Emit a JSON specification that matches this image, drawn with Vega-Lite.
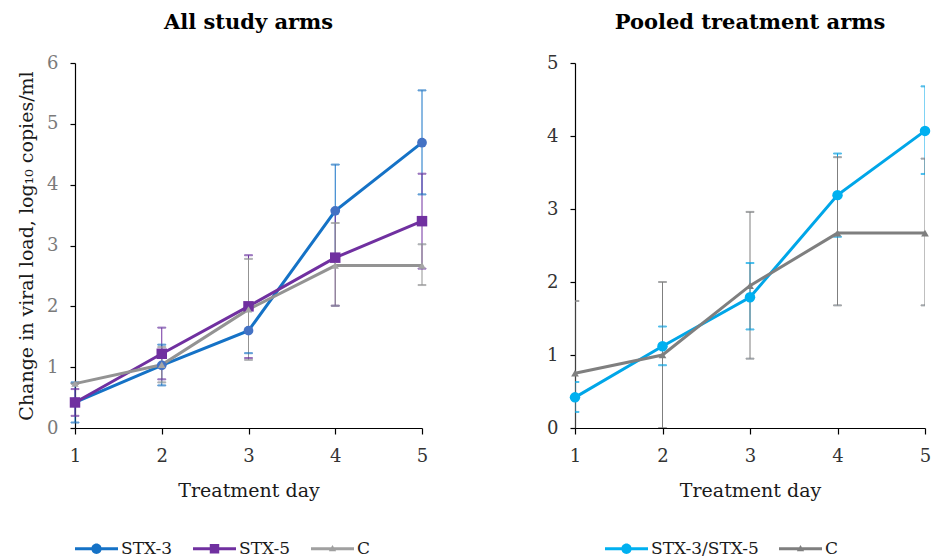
{
  "$schema": "https://vega.github.io/schema/vega-lite/v6.json",
  "padding": {"left": 17, "top": 12, "right": 5, "bottom": 5},
  "background": "white",
  "datasets": {
    "all": [
      {"day": 1, "series": "STX-3", "value": 0.42, "lo": 0.09, "hi": 0.75},
      {"day": 2, "series": "STX-3", "value": 1.03, "lo": 0.70, "hi": 1.37},
      {"day": 3, "series": "STX-3", "value": 1.60, "lo": 1.23, "hi": 1.97},
      {"day": 4, "series": "STX-3", "value": 3.57, "lo": 2.81, "hi": 4.33},
      {"day": 5, "series": "STX-3", "value": 4.69, "lo": 3.84, "hi": 5.55},
      {"day": 1, "series": "STX-5", "value": 0.42, "lo": 0.20, "hi": 0.64},
      {"day": 2, "series": "STX-5", "value": 1.22, "lo": 0.80, "hi": 1.65},
      {"day": 3, "series": "STX-5", "value": 2.00, "lo": 1.15, "hi": 2.84},
      {"day": 4, "series": "STX-5", "value": 2.80, "lo": 2.01, "hi": 3.59},
      {"day": 5, "series": "STX-5", "value": 3.40, "lo": 2.62, "hi": 4.18},
      {"day": 1, "series": "C", "value": 0.73, "lo": 0.73, "hi": 0.73},
      {"day": 2, "series": "C", "value": 1.04, "lo": 0.75, "hi": 1.33},
      {"day": 3, "series": "C", "value": 1.95, "lo": 1.12, "hi": 2.78},
      {"day": 4, "series": "C", "value": 2.67, "lo": 2.01, "hi": 3.37},
      {"day": 5, "series": "C", "value": 2.67, "lo": 2.35, "hi": 3.02}
    ],
    "pooled": [
      {"day": 1, "series": "STX-3/STX-5", "value": 0.42, "lo": 0.22, "hi": 0.63},
      {"day": 2, "series": "STX-3/STX-5", "value": 1.12, "lo": 0.86, "hi": 1.39},
      {"day": 3, "series": "STX-3/STX-5", "value": 1.79, "lo": 1.35, "hi": 2.26},
      {"day": 4, "series": "STX-3/STX-5", "value": 3.19, "lo": 2.62, "hi": 3.76},
      {"day": 5, "series": "STX-3/STX-5", "value": 4.07, "lo": 3.48, "hi": 4.68},
      {"day": 1, "series": "C", "value": 0.75, "lo": -0.24, "hi": 1.74},
      {"day": 2, "series": "C", "value": 1.00, "lo": 0.00, "hi": 2.00},
      {"day": 3, "series": "C", "value": 1.95, "lo": 0.95, "hi": 2.96},
      {"day": 4, "series": "C", "value": 2.67, "lo": 1.68, "hi": 3.71},
      {"day": 5, "series": "C", "value": 2.67, "lo": 1.68, "hi": 3.69}
    ]
  },
  "hconcat": [
    {
      "width": 347,
      "height": 365,
      "data": {"name": "all"},
      "title": {"text": "All study arms"},
      "encoding": {
        "x": {"field": "day", "type": "quantitative", "title": "Treatment day",
              "scale": {"domain": [1, 5], "nice": false, "zero": false},
              "axis": {"values": [1, 2, 3, 4, 5], "format": "d"}}
      },
      "layer": [
        {
          "mark": {"type": "rule", "strokeWidth": 1},
          "encoding": {
            "y": {"field": "lo", "type": "quantitative", "title": "Change in viral load, log₁₀ copies/ml",
                  "scale": {"domain": [0, 6], "nice": false},
                  "axis": {"values": [0, 1, 2, 3, 4, 5, 6], "format": "d", "labelColor": "#7a7a7a"}},
            "y2": {"field": "hi"},
            "stroke": {"field": "series", "type": "nominal", "legend": null,
                       "scale": {"range": ["#939393", "#1572C6", "#7030A0"]}}
          }
        },
        {
          "mark": {"type": "tick", "orient": "horizontal", "size": 8, "thickness": 1},
          "encoding": {
            "y": {"field": "lo", "type": "quantitative", "title": "Change in viral load, log₁₀ copies/ml", "scale": {"domain": [0, 6], "nice": false}},
            "stroke": {"field": "series", "type": "nominal", "legend": null}
          }
        },
        {
          "mark": {"type": "tick", "orient": "horizontal", "size": 8, "thickness": 1},
          "encoding": {
            "y": {"field": "hi", "type": "quantitative", "title": "Change in viral load, log₁₀ copies/ml", "scale": {"domain": [0, 6], "nice": false}},
            "stroke": {"field": "series", "type": "nominal", "legend": null}
          }
        },
        {
          "mark": {"type": "line", "strokeWidth": 3},
          "encoding": {
            "y": {"field": "value", "type": "quantitative", "title": "Change in viral load, log₁₀ copies/ml", "scale": {"domain": [0, 6], "nice": false}},
            "stroke": {"field": "series", "type": "nominal", "legend": null}
          }
        },
        {
          "transform": [{"filter": "datum.series === 'STX-3'"}],
          "mark": {"type": "point", "shape": "circle", "filled": true, "size": 95, "opacity": 1},
          "encoding": {
            "y": {"field": "value", "type": "quantitative", "title": "Change in viral load, log₁₀ copies/ml", "scale": {"domain": [0, 6], "nice": false}},
            "fill": {"field": "series", "type": "nominal", "legend": null,
                     "scale": {"range": ["#a5a5a5", "#4472C4", "#7030A0"]}}
          }
        },
        {
          "transform": [{"filter": "datum.series === 'STX-5'"}],
          "mark": {"type": "point", "shape": "square", "filled": true, "size": 110, "opacity": 1},
          "encoding": {
            "y": {"field": "value", "type": "quantitative", "title": "Change in viral load, log₁₀ copies/ml", "scale": {"domain": [0, 6], "nice": false}},
            "fill": {"field": "series", "type": "nominal", "legend": null}
          }
        },
        {
          "transform": [{"filter": "datum.series === 'C'"}],
          "mark": {"type": "point", "shape": "triangle-up", "filled": true, "size": 55, "opacity": 1},
          "encoding": {
            "y": {"field": "value", "type": "quantitative", "title": "Change in viral load, log₁₀ copies/ml", "scale": {"domain": [0, 6], "nice": false}},
            "fill": {"field": "series", "type": "nominal", "legend": null}
          }
        },
        {
          "mark": {"type": "point", "filled": true, "opacity": 0},
          "encoding": {
            "y": {"field": "value", "type": "quantitative", "title": "Change in viral load, log₁₀ copies/ml", "scale": {"domain": [0, 6], "nice": false}},
            "color": {"field": "series", "type": "nominal",
                      "scale": {"domain": ["STX-3", "STX-5", "C"], "range": ["#1572C6", "#7030A0", "#a0a0a0"]},
                      "legend": {"orient": "bottom", "direction": "horizontal", "title": null, "symbolSize": 1849, "symbolStrokeWidth": 0, "symbolOpacity": 1, "labelOffset": 3, "columnPadding": 20, "padding": 0, "offset": 27}},
            "shape": {"field": "series", "type": "nominal",
                      "scale": {"domain": ["STX-3", "STX-5", "C"],
                                "range": [
                                  "M-1,-0.07H1V0.07H-1Z M0.24,0A0.24,0.24 0 1,1 -0.24,0A0.24,0.24 0 1,1 0.24,0Z",
                                  "M-1,-0.07H1V0.07H-1Z M-0.22,-0.22H0.22V0.22H-0.22Z",
                                  "M-1,-0.07H1V0.07H-1Z M0,-0.17L0.17,0.12H-0.17Z"]},
                      "legend": {"orient": "bottom", "direction": "horizontal", "title": null, "symbolSize": 1849, "symbolStrokeWidth": 0, "symbolOpacity": 1, "labelOffset": 3, "columnPadding": 20, "padding": 0, "offset": 27}}
          }
        }
      ]
    },
    {
      "width": 350,
      "height": 365,
      "data": {"name": "pooled"},
      "title": {"text": "Pooled treatment arms"},
      "encoding": {
        "x": {"field": "day", "type": "quantitative", "title": "Treatment day",
              "scale": {"domain": [1, 5], "nice": false, "zero": false},
              "axis": {"values": [1, 2, 3, 4, 5], "format": "d"}}
      },
      "layer": [
        {
          "mark": {"type": "rule", "strokeWidth": 1, "clip": true},
          "encoding": {
            "y": {"field": "lo", "type": "quantitative", "title": null,
                  "scale": {"domain": [0, 5], "nice": false},
                  "axis": {"values": [0, 1, 2, 3, 4, 5], "format": "d", "labelColor": "#333333"}},
            "y2": {"field": "hi"},
            "stroke": {"field": "series", "type": "nominal", "legend": null,
                       "scale": {"range": ["#7f7f7f", "#00A6E8"]}}
          }
        },
        {
          "mark": {"type": "tick", "orient": "horizontal", "size": 8, "thickness": 1, "clip": true},
          "encoding": {
            "y": {"field": "lo", "type": "quantitative", "title": null, "scale": {"domain": [0, 5], "nice": false}},
            "stroke": {"field": "series", "type": "nominal", "legend": null}
          }
        },
        {
          "mark": {"type": "tick", "orient": "horizontal", "size": 8, "thickness": 1, "clip": true},
          "encoding": {
            "y": {"field": "hi", "type": "quantitative", "title": null, "scale": {"domain": [0, 5], "nice": false}},
            "stroke": {"field": "series", "type": "nominal", "legend": null}
          }
        },
        {
          "mark": {"type": "line", "strokeWidth": 3},
          "encoding": {
            "y": {"field": "value", "type": "quantitative", "title": null, "scale": {"domain": [0, 5], "nice": false}},
            "stroke": {"field": "series", "type": "nominal", "legend": null}
          }
        },
        {
          "transform": [{"filter": "datum.series === 'STX-3/STX-5'"}],
          "mark": {"type": "point", "shape": "circle", "filled": true, "size": 110, "opacity": 1},
          "encoding": {
            "y": {"field": "value", "type": "quantitative", "title": null, "scale": {"domain": [0, 5], "nice": false}},
            "fill": {"field": "series", "type": "nominal", "legend": null,
                     "scale": {"range": ["#7f7f7f", "#00B0F0"]}}
          }
        },
        {
          "transform": [{"filter": "datum.series === 'C'"}],
          "mark": {"type": "point", "shape": "triangle-up", "filled": true, "size": 60, "opacity": 1},
          "encoding": {
            "y": {"field": "value", "type": "quantitative", "title": null, "scale": {"domain": [0, 5], "nice": false}},
            "fill": {"field": "series", "type": "nominal", "legend": null}
          }
        },
        {
          "mark": {"type": "point", "filled": true, "opacity": 0},
          "encoding": {
            "y": {"field": "value", "type": "quantitative", "title": null, "scale": {"domain": [0, 5], "nice": false}},
            "color": {"field": "series", "type": "nominal",
                      "scale": {"domain": ["STX-3/STX-5", "C"], "range": ["#00B0F0", "#7f7f7f"]},
                      "legend": {"orient": "bottom", "direction": "horizontal", "title": null, "symbolSize": 1849, "symbolStrokeWidth": 0, "symbolOpacity": 1, "labelOffset": 3, "columnPadding": 20, "padding": 30, "offset": -3}},
            "shape": {"field": "series", "type": "nominal",
                      "scale": {"domain": ["STX-3/STX-5", "C"],
                                "range": [
                                  "M-1,-0.07H1V0.07H-1Z M0.24,0A0.24,0.24 0 1,1 -0.24,0A0.24,0.24 0 1,1 0.24,0Z",
                                  "M-1,-0.07H1V0.07H-1Z M0,-0.17L0.17,0.12H-0.17Z"]},
                      "legend": {"orient": "bottom", "direction": "horizontal", "title": null, "symbolSize": 1849, "symbolStrokeWidth": 0, "symbolOpacity": 1, "labelOffset": 3, "columnPadding": 20, "padding": 30, "offset": -3}}
          }
        }
      ]
    }
  ],
  "spacing": 118,
  "resolve": {
    "scale": {"color": "independent", "shape": "independent", "fill": "independent", "stroke": "independent"},
    "legend": {"color": "independent", "shape": "independent"}
  },
  "config": {
    "view": {"stroke": null},
    "font": "DejaVu Serif",
    "title": {"font": "DejaVu Serif", "fontSize": 21, "fontWeight": "bold", "color": "#000000", "offset": 21, "anchor": "middle"},
    "axis": {
      "grid": false,
      "labelFont": "DejaVu Serif",
      "labelFontSize": 18,
      "labelColor": "#333333",
      "titleFont": "DejaVu Serif",
      "titleFontSize": 19,
      "titleFontWeight": "normal",
      "titleColor": "#1a1a1a",
      "domainColor": "#000000",
      "domainWidth": 1.2,
      "tickColor": "#000000",
      "tickWidth": 1.2,
      "tickSize": 5,
      "labelPadding": 12
    },
    "axisX": {"tickSize": 6, "labelPadding": 13, "titlePadding": 16, "labelFlush": false},
    "axisY": {"titlePadding": 10, "labelFontSize": 18},
    "legend": {"labelFont": "DejaVu Serif", "labelFontSize": 17, "labelColor": "#1a1a1a"}
  }
}
